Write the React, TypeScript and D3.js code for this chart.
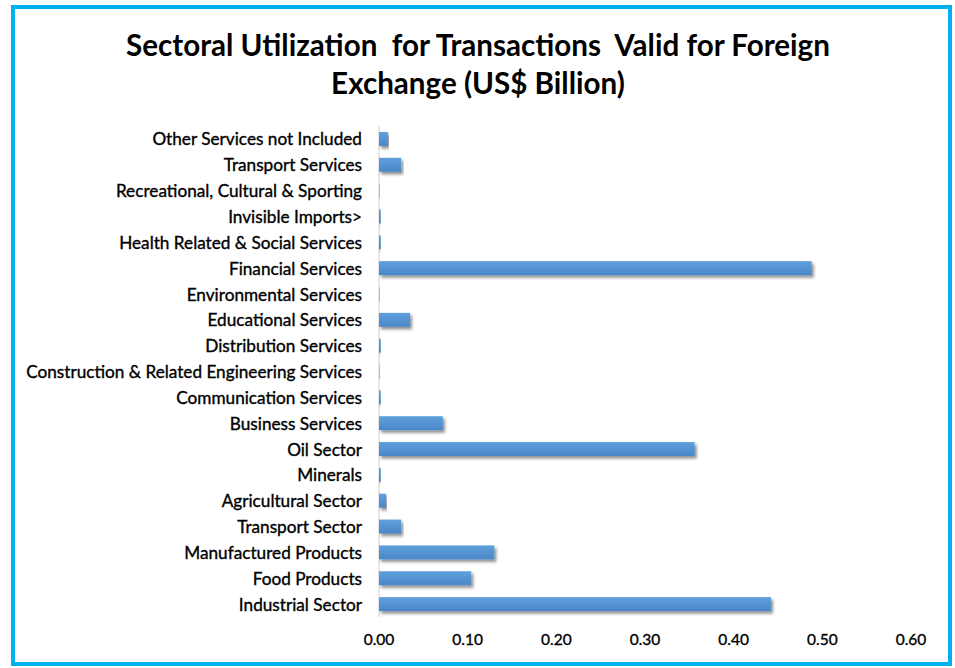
import React from "react";
import * as d3 from "d3";

const categories = [
  "Other Services not Included",
  "Transport Services",
  "Recreational, Cultural & Sporting",
  "Invisible Imports>",
  "Health Related & Social Services",
  "Financial Services",
  "Environmental Services",
  "Educational Services",
  "Distribution Services",
  "Construction & Related Engineering Services",
  "Communication Services",
  "Business Services",
  "Oil Sector",
  "Minerals",
  "Agricultural Sector",
  "Transport Sector",
  "Manufactured Products",
  "Food Products",
  "Industrial Sector",
];
const values = [
  0.01, 0.025, 0.0005, 0.002, 0.002, 0.488, 0.0005, 0.035, 0.002, 0.0005, 0.002,
  0.072, 0.356, 0.002, 0.008, 0.025, 0.13, 0.104, 0.442,
];
const tickValues = [0, 0.1, 0.2, 0.3, 0.4, 0.5, 0.6];
const titleLines = [
  "Sectoral Utilization  for Transactions  Valid for Foreign",
  "Exchange (US$ Billion)",
];

const W = 955;
const H = 668;
const margin = { left: 379, right: 955 - 911, top: 126, bottom: 668 - 617 };

export default function App() {
  const x = d3.scaleLinear().domain([0, 0.6]).range([margin.left, W - margin.right]);
  const y = d3
    .scaleBand<string>()
    .domain(categories)
    .range([margin.top, H - margin.bottom])
    .paddingInner(0.46)
    .paddingOuter(0.23);
  const font = "Lato, 'Open Sans', sans-serif";
  return (
    <svg
      width={W}
      height={H}
      style={{ position: "absolute", left: 0, top: 0, background: "#fff" }}
    >
      <defs>
        <linearGradient id="barGrad" x1="0" y1="0" x2="0" y2="1">
          <stop offset="0" stopColor="#5fa0dc" />
          <stop offset="1" stopColor="#4a87c8" />
        </linearGradient>
        <filter id="shadow" x="-5%" y="-50%" width="115%" height="220%">
          <feDropShadow dx="2" dy="2.5" stdDeviation="1.6" floodColor="#000" floodOpacity="0.45" />
        </filter>
      </defs>
      <rect x={13} y={7} width={937} height={657} fill="#fff" stroke="#00b0f0" strokeWidth={4} />
      {titleLines.map((t, i) => (
        <text
          key={i}
          x={478}
          y={56 + i * 38}
          textAnchor="middle"
          fontFamily={font}
          fontWeight={700}
          fontSize={29.6}
          fill="#000"
          style={{ whiteSpace: "pre" }}
        >
          {t}
        </text>
      ))}
      <line
        x1={x(0)}
        x2={x(0)}
        y1={margin.top}
        y2={H - margin.bottom}
        stroke="#d0d0d0"
        strokeWidth={1}
      />
      {categories.map((c, i) => (
        <g key={c}>
          <rect
            x={x(0)}
            y={y(c)!}
            width={Math.max(0, x(values[i]) - x(0))}
            height={y.bandwidth()}
            fill="url(#barGrad)"
            filter="url(#shadow)"
          />
          <text
            x={362}
            y={y(c)! + y.bandwidth() / 2}
            dy="0.38em"
            textAnchor="end"
            fontFamily={font}
            fontSize={17.2}
            fill="#000"
            stroke="#000"
            strokeWidth={0.35}
          >
            {c}
          </text>
        </g>
      ))}
      {tickValues.map((v) => (
        <text
          key={v}
          x={x(v)}
          y={640}
          dy="0.35em"
          textAnchor="middle"
          fontFamily={font}
          fontSize={15.5}
          fill="#000"
          stroke="#000"
          strokeWidth={0.35}
        >
          {d3.format(".2f")(v)}
        </text>
      ))}
    </svg>
  );
}
